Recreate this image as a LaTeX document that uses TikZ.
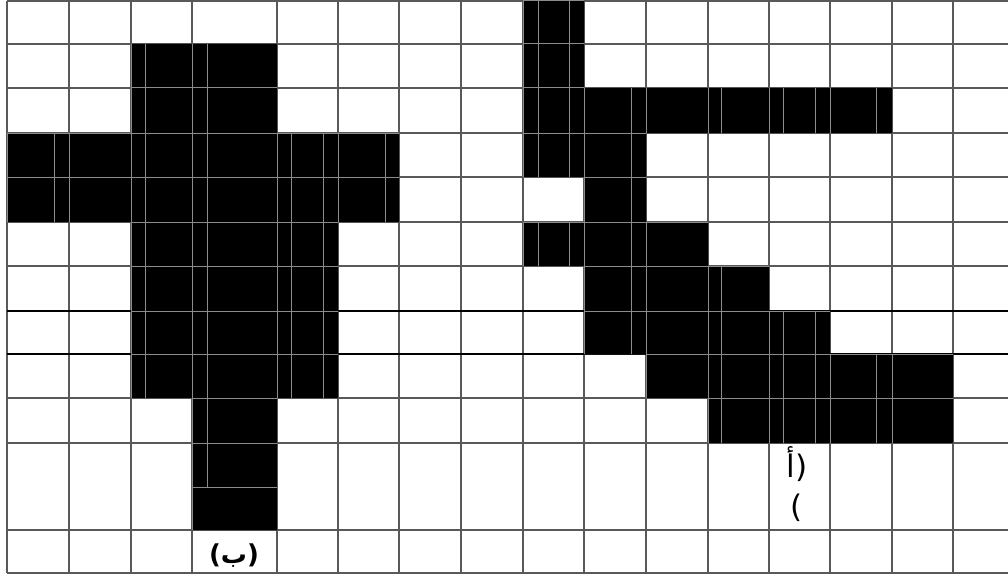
\documentclass[tikz,border=0pt]{standalone}
\usepackage{fontspec}
\newfontfamily\arabicfont[Script=Arabic]{DejaVu Sans}
\TeXXeTstate=1
\usetikzlibrary{positioning}

% black cells of the two figures
\newcommand\figB{(131,44) rectangle (277,133) (7,133) rectangle (399,222)
  (131,222) rectangle (338,398) (192,398) rectangle (277,530)}
\newcommand\figA{(523,0) rectangle (584,177) (584,88) rectangle (892,133)
  (584,133) rectangle (646,222) (523,222) rectangle (708,266)
  (584,266) rectangle (769,311) (584,311) rectangle (830,354)
  (646,354) rectangle (953,398) (708,398) rectangle (953,443)}

\begin{document}
\begin{tikzpicture}[x=1pt, y=-1pt,
    gridline/.style={draw=black!65, line width=1.4pt},
    darkline/.style={draw=black, line width=1.2pt},
    innerline/.style={draw=black!45, line width=1pt},
    tagB/.style={font=\arabicfont\bfseries\fontsize{26}{28}\selectfont, inner sep=0pt},
    tagA/.style={font=\arabicfont\fontsize{31}{33}\selectfont, inner sep=0pt}
]
\useasboundingbox[fill=white] (0,0) rectangle (1008,575);

\foreach \x in {7,69,131,192,277,338,399,461,523,584,646,708,769,830,892,953}
  \draw[gridline] (\x,1) -- (\x,573);
\foreach \y in {1,44,88,133,177,222,266,398,443,530,573}
  \draw[gridline] (7,\y) -- (1008,\y);
\foreach \y in {311,354}
  \draw[darkline] (7,\y) -- (1008,\y);

\fill[black] \figB;
\fill[black] \figA;

% grid showing through the black cells
\begin{scope}
  \clip \figB \figA;
  \foreach \x in {7,69,131,192,277,338,399,461,523,584,646,708,769,830,892,953,
                  54,145,291,323,385,538,569,631,721,783,815,876}
    \draw[innerline] (\x,0) -- (\x,530);
  \draw[innerline] (207,44) -- (207,487);
  \foreach \y in {1,44,88,133,177,222,266,311,354,398,443}
    \draw[innerline] (0,\y) -- (1008,\y);
  \draw[innerline] (192,487) -- (277,487);
\end{scope}

\node[tagB] (lblB) at (234,556) {(ب)};
\node[tagA] (lblA1) at (797,464) {(أ};
\node[tagA, below=12pt of lblA1] (lblA2) {)};
\end{tikzpicture}
\end{document}
